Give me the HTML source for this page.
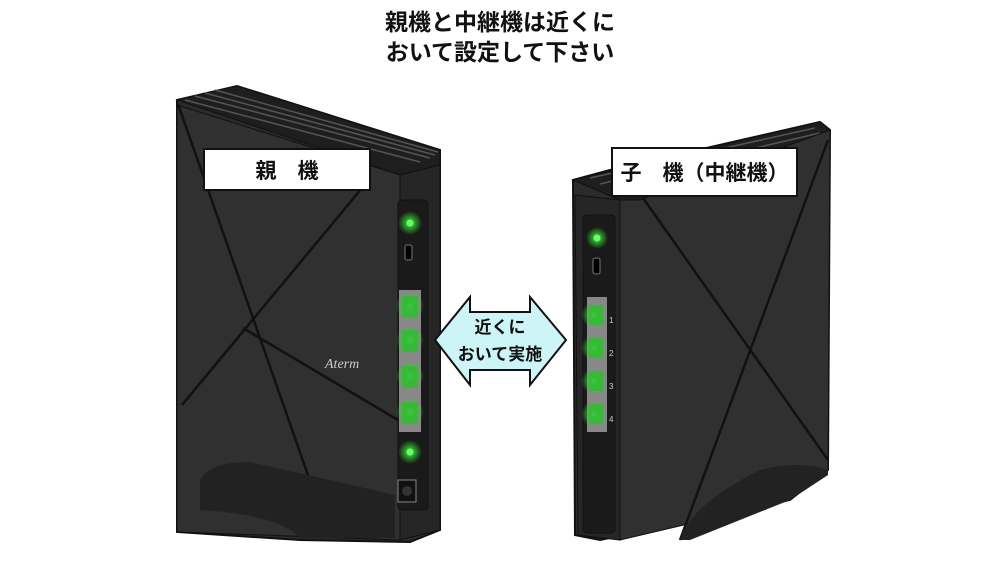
<!DOCTYPE html>
<html><head><meta charset="utf-8"><style>
body{margin:0;width:1000px;height:563px;background:#fff;overflow:hidden;font-family:"Liberation Sans","Noto Sans CJK JP",sans-serif;position:relative}
.t{position:absolute;left:0;width:1000px;text-align:center;font-weight:bold;font-size:23px;color:#111;line-height:30px}
.lab{position:absolute;background:#fff;border:2px solid #111;box-sizing:border-box;font-weight:bold;font-size:21px;display:flex;align-items:center;justify-content:center;color:#111}
</style></head><body>
<div class="t" style="top:7px">親機と中継機は近くに</div>
<div class="t" style="top:37px">おいて設定して下さい</div>
<svg width="1000" height="563" style="position:absolute;left:0;top:0">
<defs>
<radialGradient id="g"><stop offset="0" stop-color="#8f8" stop-opacity="1"/><stop offset="0.35" stop-color="#3c3" stop-opacity="0.8"/><stop offset="1" stop-color="#3c3" stop-opacity="0"/></radialGradient>
</defs>
<!-- left router -->
<polygon points="177,100 237,86 440,150 440,530 410,542 300,540 177,532" fill="#2b2b2b" stroke="#111" stroke-width="2"/>
<polygon points="177,100 237,86 440,150 440,165 400,175" fill="#1e1e1e" stroke="#111"/>
<g stroke="#555" stroke-width="1.5"><line x1="185" y1="100" x2="420" y2="162"/><line x1="195" y1="96" x2="430" y2="158"/><line x1="205" y1="93" x2="435" y2="155"/><line x1="215" y1="90" x2="438" y2="152"/></g>
<polygon points="177,105 400,175 400,540 177,532" fill="#303030" stroke="#111"/>
<polygon points="400,175 440,165 440,530 400,540" fill="#262626" stroke="#111"/>
<rect x="398" y="200" width="30" height="310" rx="4" fill="#1a1a1a" stroke="#111"/>
<g stroke="#111" stroke-width="2.5" fill="none"><line x1="178" y1="104" x2="330" y2="538"/><line x1="362" y1="188" x2="182" y2="405"/><line x1="243" y1="328" x2="398" y2="420"/></g>
<path d="M200,480 Q210,462 250,462 L395,495 L395,538 L300,538 Q280,515 200,510 Z" fill="#222"/>
<text x="325" y="368" fill="#ccc" font-size="14" font-style="italic" font-family="Liberation Serif">Aterm</text>
<circle cx="410" cy="223" r="12" fill="url(#g)"/><circle cx="410" cy="223" r="3.5" fill="#6f6"/>
<rect x="405" y="245" width="7" height="15" rx="2" fill="#000" stroke="#777"/>
<rect x="399" y="290" width="22" height="142" fill="#888"/>
<g><circle cx="410" cy="306" r="14" fill="url(#g)"/><circle cx="410" cy="340" r="14" fill="url(#g)"/><circle cx="410" cy="376" r="14" fill="url(#g)"/><circle cx="410" cy="412" r="14" fill="url(#g)"/></g>
<g fill="#3b3" opacity="0.85"><rect x="402" y="296" width="16" height="22"/><rect x="402" y="330" width="16" height="22"/><rect x="402" y="366" width="16" height="22"/><rect x="402" y="402" width="16" height="22"/></g>
<circle cx="410" cy="452" r="12" fill="url(#g)"/><circle cx="410" cy="452" r="3.5" fill="#6f6"/>
<rect x="398" y="480" width="18" height="22" fill="#111" stroke="#888"/><circle cx="407" cy="491" r="5" fill="#333"/>
<!-- right router -->
<polygon points="573,180 610,170 820,122 830,130 828,470 790,500 600,540 575,535" fill="#2b2b2b" stroke="#111" stroke-width="2"/>
<polygon points="573,180 820,122 830,130 640,200 620,200" fill="#1e1e1e" stroke="#111"/>
<g stroke="#555" stroke-width="1.5"><line x1="590" y1="178" x2="815" y2="128"/><line x1="600" y1="184" x2="820" y2="133"/><line x1="612" y1="190" x2="825" y2="138"/></g>
<polygon points="620,200 640,200 830,130 828,470 790,500 620,540" fill="#303030" stroke="#111"/>
<polygon points="575,195 620,200 620,540 578,535" fill="#262626" stroke="#111"/>
<rect x="583" y="215" width="32" height="318" rx="4" fill="#1a1a1a" stroke="#111"/>
<g stroke="#111" stroke-width="2.5" fill="none"><line x1="643" y1="198" x2="828" y2="460"/><line x1="828" y1="140" x2="680" y2="540"/></g>
<path d="M680,540 Q690,505 760,470 Q800,460 828,470 L828,475 L790,500 L690,540 Z" fill="#222"/>
<circle cx="597" cy="238" r="11" fill="url(#g)"/><circle cx="597" cy="238" r="3.5" fill="#6f6"/>
<rect x="593" y="258" width="7" height="16" rx="2" fill="#000" stroke="#777"/>
<rect x="587" y="297" width="20" height="135" fill="#888"/>
<g><circle cx="594" cy="315" r="13" fill="url(#g)"/><circle cx="594" cy="348" r="13" fill="url(#g)"/><circle cx="594" cy="381" r="13" fill="url(#g)"/><circle cx="594" cy="414" r="13" fill="url(#g)"/></g>
<g fill="#3b3" opacity="0.85"><rect x="589" y="305" width="14" height="20"/><rect x="589" y="338" width="14" height="20"/><rect x="589" y="371" width="14" height="20"/><rect x="589" y="404" width="14" height="20"/></g>
<g fill="#ccc" font-size="8"><text x="609" y="323">1</text><text x="609" y="356">2</text><text x="609" y="389">3</text><text x="609" y="422">4</text></g>
<!-- arrow -->
<polygon points="435,340 470,297 470,312 530,312 530,297 566,340 530,385 530,370 470,370 470,385" fill="#cdf4f7" stroke="#111" stroke-width="2"/>
<text x="500" y="333" text-anchor="middle" font-size="17" font-weight="bold" fill="#111" font-family="Liberation Sans,Noto Sans CJK JP,sans-serif">近くに</text>
<text x="500" y="360" text-anchor="middle" font-size="17" font-weight="bold" fill="#111" font-family="Liberation Sans,Noto Sans CJK JP,sans-serif">おいて実施</text>
</svg>
<div class="lab" style="left:203px;top:148px;width:168px;height:43px">親　機</div>
<div class="lab" style="left:611px;top:147px;width:187px;height:50px">子　機（中継機）</div>
</body></html>
